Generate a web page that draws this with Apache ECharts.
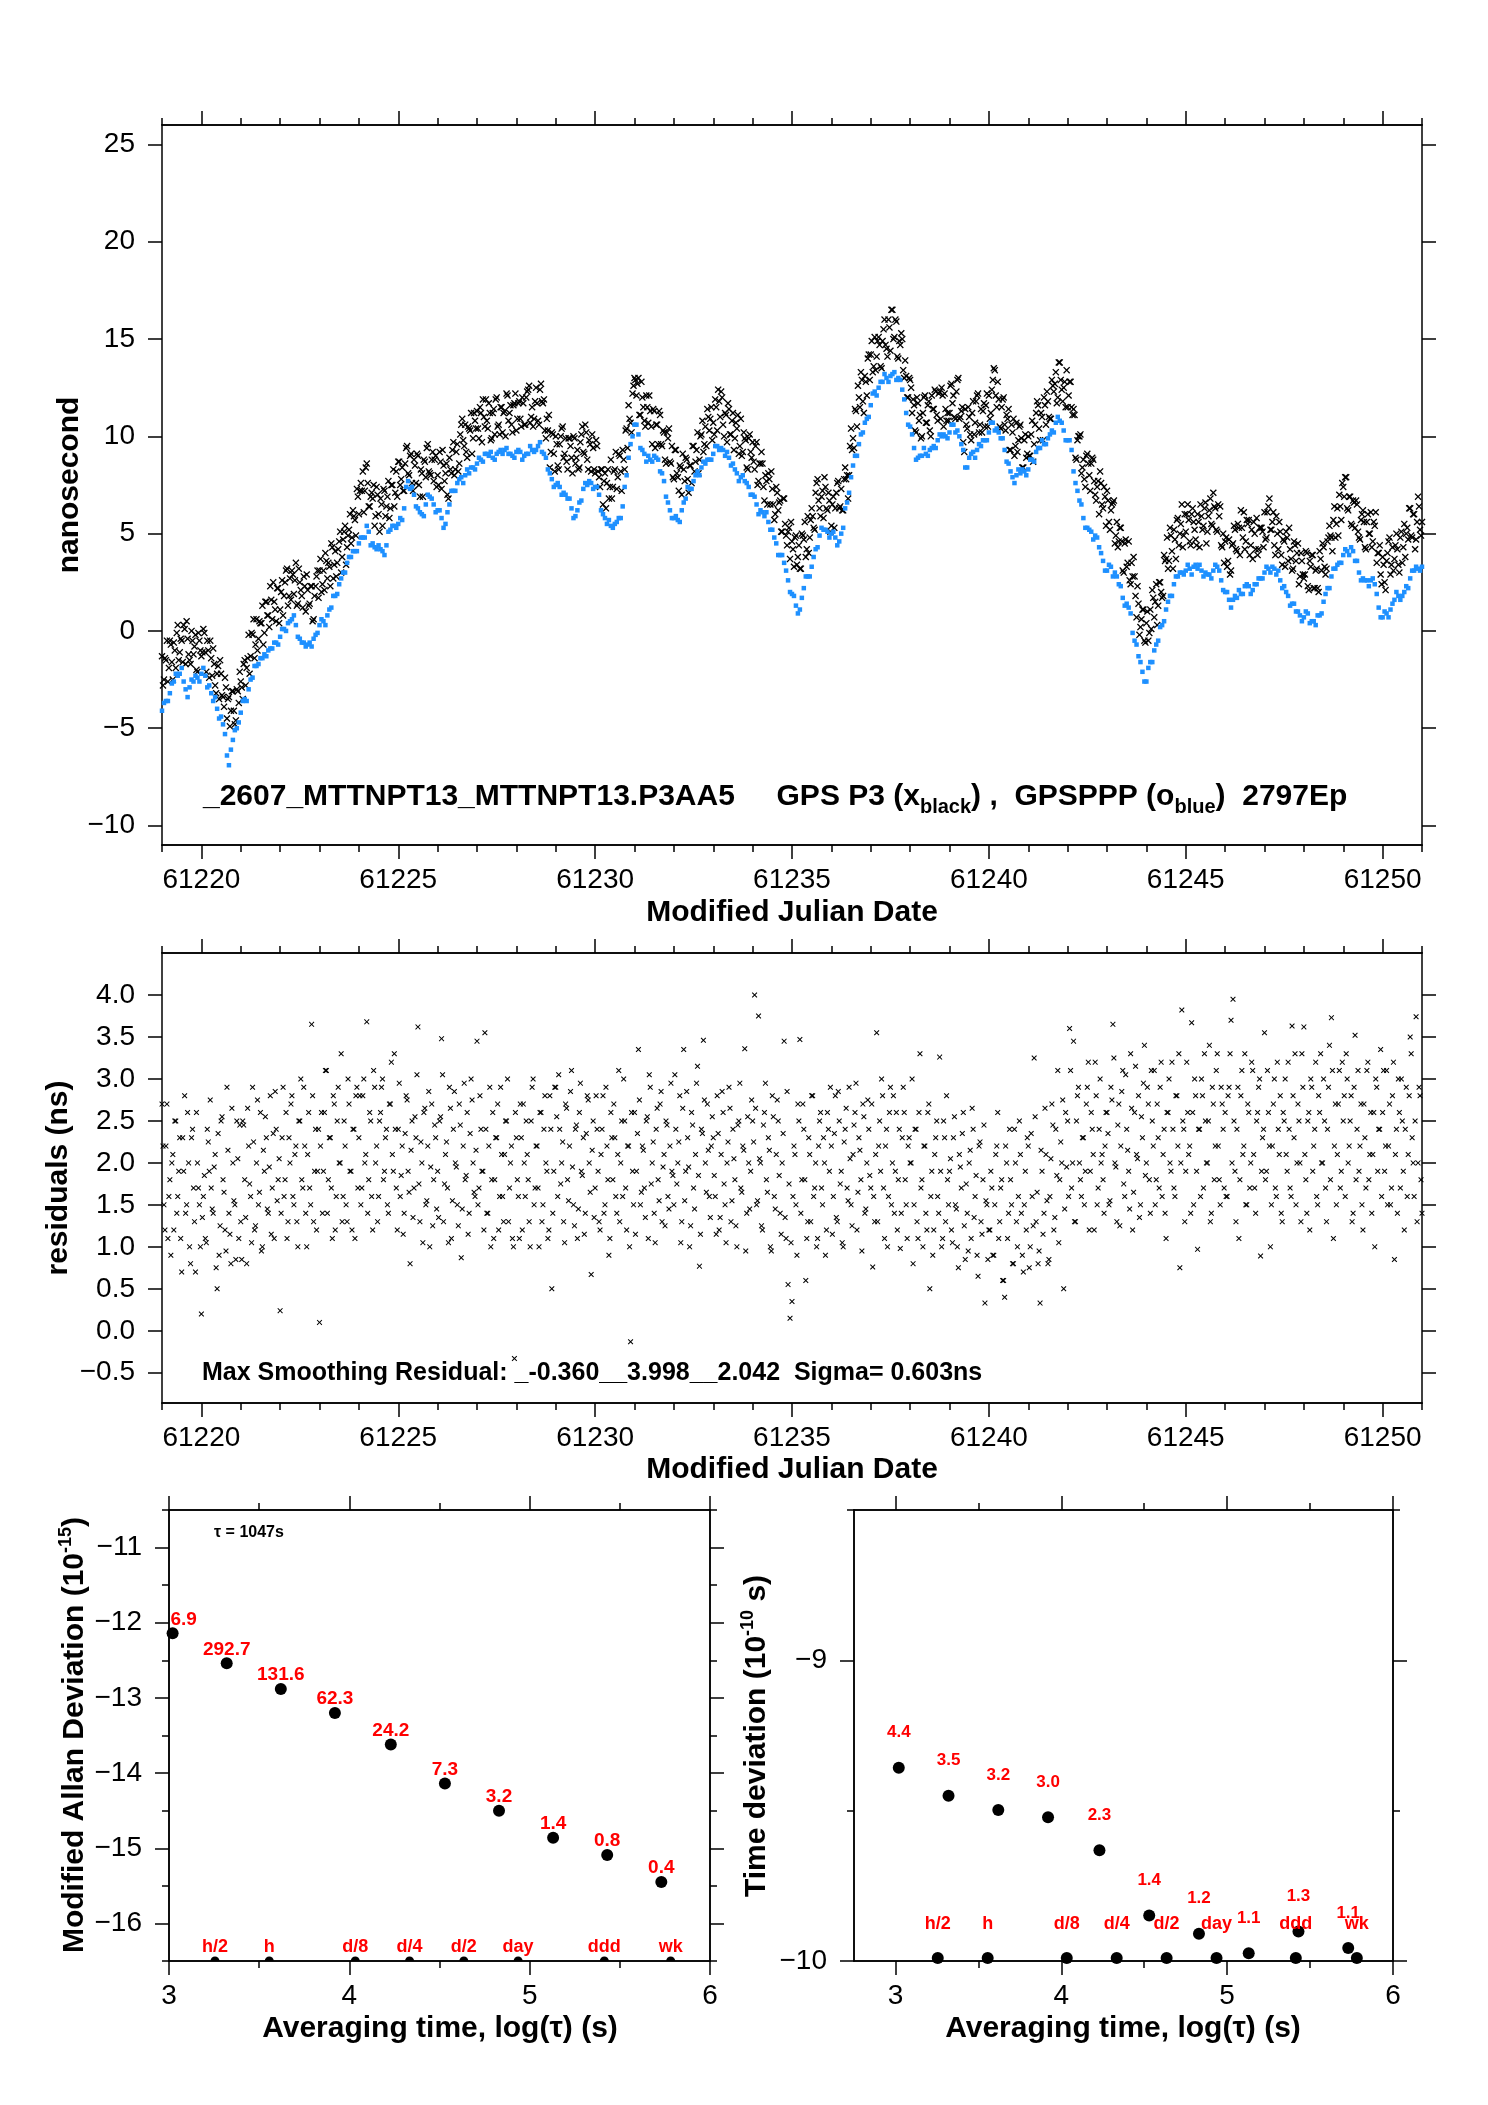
<!DOCTYPE html>
<html>
<head>
<meta charset="utf-8">
<title>MTTNPT13 GPS P3 vs GPSPPP</title>
<script src="https://cdn.jsdelivr.net/npm/echarts/dist/echarts.min.js"></script>
<style>
html, body { margin: 0; padding: 0; background: #fff; }
#chart { width: 1488px; height: 2105px; }
</style>
</head>
<body>
<div id="chart"></div>
<script>
// time comparison plot: P3 / PPP offsets, smoothing residuals, MDEV and TDEV
var FONT = "'Liberation Sans', Arial, Helvetica, sans-serif";

// ---- MJD axis ----
var MJD_MIN = 61219, MJD_MAX = 61251;
var mjdTicks = [61220, 61225, 61230, 61235, 61240, 61245, 61250];
var mjdDays = [];
for (var d = MJD_MIN; d <= MJD_MAX; d++) mjdDays.push(d);

// sampling of the read-off series: two interleaved passes each (start MJD, step in days)
var P3_START = 61219, P3_START_B = 61219.025, P3_STEP = 0.05;
var PPP_START = 61219, PPP_START_B = 61219.05, PPP_STEP = 0.1;
var RES_START = 61219, RES_START_B = 61219.025, RES_STEP = 0.05;

// GPS P3 (black x), ns
var p3Black = [
  -1.3,-2.5,-1.5,-2.6,-0.5,-1.6,-0.6,-1.9,0.3,-1.1,-0.5,0.3,-1.7,-0.4,-1.5,0.0,-1.2,-0.2,-2.1,-0.5,
  -1.3,0.1,-1.1,-0.5,-2.4,-1.4,-0.9,-2.8,-2.2,-3.5,-2.2,-3.4,-2.4,-4.5,-3.4,-4.1,-3.1,-4.8,-3.0,-3.7,
  -2.6,-3.5,-1.5,-1.9,-0.2,-1.3,-0.2,-1.4,0.6,-0.4,0.4,1.3,-0.1,1.5,0.8,2.3,0.6,1.5,0.5,2.2,
  1.1,2.6,1.8,3.1,1.3,2.7,3.1,1.9,3.5,1.4,2.5,1.8,2.8,1.0,2.1,1.4,2.3,0.6,2.3,3.1,
  3.1,2.0,3.1,4.0,2.7,3.3,4.5,2.7,4.1,3.5,4.6,3.0,4.7,5.4,4.3,5.2,4.5,6.2,5.7,7.3,
  6.0,7.6,8.2,7.2,8.6,6.4,6.9,6.8,5.4,7.4,6.0,6.8,5.4,7.2,6.4,7.7,6.3,7.5,6.4,8.2,
  8.7,7.5,8.4,7.2,9.4,8.1,9.0,7.6,8.8,7.6,9.0,6.9,8.1,8.8,7.9,9.6,8.1,8.8,7.7,9.0,
  8.0,9.2,7.3,8.5,8.1,7.0,8.9,8.1,9.7,8.3,9.6,8.6,10.6,9.8,10.6,8.9,10.4,11.2,9.9,10.8,
  11.3,9.9,11.2,11.9,10.5,10.8,11.7,9.8,11.2,10.1,12.0,10.6,11.5,10.2,11.3,12.2,10.8,11.6,10.2,11.7,
  10.3,11.7,10.9,12.0,10.6,12.0,12.4,10.7,11.5,10.9,12.5,10.8,12.4,11.8,11.9,9.9,10.3,8.4,10.2,9.1,
  10.0,8.5,9.6,10.4,8.9,9.9,8.3,9.9,8.9,10.0,8.6,9.3,8.4,10.1,9.2,10.6,8.8,9.8,8.2,9.4,
  8.1,9.5,7.9,8.3,6.5,8.1,7.6,6.8,8.8,7.4,8.3,7.3,9.1,8.2,9.3,8.3,10.4,11.6,10.7,12.2,
  13.0,12.1,13.0,11.1,12.0,10.8,12.1,10.7,11.3,9.6,11.3,10.6,9.6,11.1,9.5,10.2,8.6,9.9,8.7,9.5,
  7.8,9.3,7.9,8.5,7.0,8.3,8.9,7.8,8.5,7.6,9.5,8.7,10.2,8.8,10.1,9.2,10.5,11.4,10.3,11.5,
  10.7,11.9,10.3,11.8,12.3,10.6,11.2,9.7,11.4,10.1,11.2,9.9,10.4,9.1,10.9,9.2,9.9,8.4,9.9,9.2,
  9.7,8.3,9.7,7.7,8.6,8.6,6.7,7.7,8.1,6.5,7.3,5.7,7.4,6.2,6.7,5.1,6.8,4.9,5.1,3.7,
  4.6,3.3,4.9,3.8,3.2,5.0,4.7,3.8,5.9,4.8,6.3,5.3,7.1,7.8,6.3,6.9,5.8,7.4,6.2,6.7,
  5.4,6.9,6.3,7.6,6.3,7.3,6.2,8.4,8.0,8.0,10.4,9.9,11.4,10.5,12.0,13.3,11.8,13.1,12.1,14.2,
  14.2,13.3,15.1,14.1,15.1,13.6,14.9,16.0,14.5,16.0,14.4,16.5,15.1,15.9,14.0,14.7,15.0,13.0,13.1,12.0,
  12.9,11.2,11.6,10.2,11.7,11.1,10.0,12.0,10.7,11.6,10.3,12.1,11.4,12.3,10.8,12.3,12.5,10.5,11.4,11.2,
  11.2,12.7,12.1,10.9,12.9,10.9,11.3,9.7,11.4,10.4,11.0,9.8,11.8,10.7,12.1,10.2,11.4,11.3,10.5,12.2,
  12.1,11.2,12.9,13.4,11.5,11.9,10.4,11.9,10.6,11.1,11.4,9.3,10.2,9.0,10.7,9.8,10.6,8.4,9.8,8.9,
  10.0,9.0,10.8,9.6,11.2,11.6,9.8,11.0,12.0,10.6,11.8,10.9,12.9,12.3,13.3,12.0,13.8,12.4,12.5,11.5,
  11.5,12.8,11.5,11.4,8.9,9.8,10.0,8.1,8.8,7.4,9.1,8.0,8.6,8.8,7.0,7.4,6.0,7.6,6.3,6.9,
  7.2,5.6,6.2,6.6,4.5,5.6,4.6,5.3,3.1,4.5,3.3,4.6,2.4,2.8,2.8,0.7,1.4,0.2,1.1,-0.5,
  0.4,-0.5,1.1,2.1,0.7,2.4,1.3,2.5,1.7,3.9,3.7,3.2,5.3,4.1,5.2,3.7,5.8,5.0,6.5,4.9,
  5.1,6.5,4.6,6.0,5.6,4.7,6.0,4.3,5.9,5.4,6.6,5.1,6.2,5.5,7.1,6.3,5.1,5.9,4.4,5.0,
  4.6,3.3,4.7,3.1,4.5,5.2,4.1,5.3,6.2,4.8,4.2,5.7,5.7,4.4,3.7,5.0,5.8,4.2,5.3,5.1,
  6.1,4.8,6.4,5.2,5.6,4.4,5.9,4.2,5.1,3.4,4.6,5.1,3.6,4.2,3.1,4.6,3.6,4.5,2.8,3.6,
  2.7,4.1,2.3,3.6,3.9,2.2,3.1,2.2,4.1,3.1,4.3,2.9,4.6,5.4,4.8,5.7,4.8,6.3,7.0,5.7,
  7.4,7.9,6.3,6.9,5.5,6.7,5.3,6.5,4.8,5.7,6.2,4.3,5.6,5.0,6.1,4.6,5.4,3.5,4.0,2.9,
  3.8,2.5,3.6,4.6,2.9,4.3,3.7,5.0,3.4,4.8,3.5,5.5,5.0,4.7,6.3,4.8,6.0,4.7,6.9,5.2,
  5.6
];
var p3BlackB = [
  -2.8,-1.4,-0.5,-1.9,-0.7,-2.5,-1.0,-0.1,-1.5,-0.4,-1.6,0.1,0.5,-1.2,-1.7,-0.5,-0.8,-2.0,-0.1,-1.0,
  -1.1,-0.1,-2.1,-1.0,-0.5,-2.3,-1.7,-3.2,-1.8,-1.5,-3.3,-3.9,-2.9,-3.5,-4.9,-3.1,-4.1,-4.6,-3.1,-2.1,
  -2.9,-1.7,-2.8,-1.4,-2.2,-0.1,0.6,-0.7,-1.0,0.5,0.4,-0.7,1.5,0.8,0.2,1.6,2.5,1.1,2.2,0.4,
  2.0,0.8,2.5,3.2,1.8,1.6,2.9,2.6,1.3,3.2,2.1,1.2,2.3,2.9,1.3,2.3,0.5,1.8,2.8,1.7,
  3.7,2.4,2.1,3.6,3.5,2.3,4.3,3.4,2.8,4.2,5.1,3.8,5.1,3.4,4.9,6.0,4.8,5.9,4.9,6.9,
  7.2,7.2,6.1,8.4,7.6,6.4,7.1,7.5,5.9,7.0,5.1,6.5,7.3,5.9,6.9,5.8,7.5,8.3,7.1,6.9,
  8.7,7.8,7.2,8.6,9.5,8.0,9.1,7.2,8.5,9.1,7.5,8.3,6.9,8.7,9.4,8.2,8.0,9.2,8.8,7.4,
  7.5,8.7,9.3,7.7,8.6,6.8,8.3,9.3,8.0,9.2,8.2,10.1,10.9,9.5,9.2,10.5,10.3,9.1,11.2,10.4,
  10.4,11.5,9.7,11.0,11.9,10.4,11.2,9.9,11.4,11.9,10.5,10.1,11.5,11.2,10.0,12.1,11.2,10.6,11.6,12.2,
  10.9,11.8,10.5,11.7,10.6,12.3,12.6,11.0,10.5,11.8,11.7,10.6,12.7,11.7,10.3,10.9,11.1,9.2,10.1,8.2,
  9.6,8.3,10.0,10.5,9.1,8.7,9.9,9.5,8.1,9.9,8.9,8.3,9.7,10.5,9.1,10.2,8.3,9.6,10.1,8.3,
  9.8,8.2,7.4,8.3,7.7,6.3,8.3,7.4,6.8,8.2,9.2,7.9,9.0,7.2,8.8,10.3,9.4,10.9,10.2,12.6,
  12.9,12.7,11.1,12.8,11.5,10.5,11.5,12.1,10.5,11.4,9.4,10.6,11.3,9.6,10.3,8.8,10.2,10.4,8.6,7.9,
  9.3,8.1,7.2,8.4,9.1,7.7,8.8,7.1,8.5,9.5,8.2,9.3,8.1,10.0,10.8,9.6,9.5,11.0,10.9,9.8,
  10.1,11.5,12.4,11.0,12.0,10.0,11.1,11.7,10.1,10.8,9.3,10.7,11.1,9.5,9.0,10.2,9.8,8.3,10.1,8.9,
  8.7,9.5,7.5,8.6,9.2,7.4,8.0,6.5,7.8,8.2,6.5,6.0,7.1,6.6,5.1,6.8,5.5,4.4,5.3,5.6,
  4.2,4.8,3.4,4.4,3.2,4.9,5.6,4.2,4.0,5.7,5.9,5.2,7.6,6.7,5.9,7.2,7.9,6.3,7.1,5.1,
  6.5,5.3,7.1,7.7,6.4,6.2,7.8,7.8,6.8,9.5,9.3,9.4,11.3,12.6,11.5,12.9,11.2,12.8,14.0,12.9,
  14.9,13.6,13.4,14.9,14.7,13.5,15.5,14.7,14.1,15.6,16.5,15.0,16.0,14.1,14.9,15.3,13.4,13.9,12.0,13.0,
  12.5,11.9,10.3,12.0,10.8,9.9,11.2,12.1,10.7,11.8,10.0,11.4,12.4,11.1,12.2,10.9,12.1,12.2,10.8,10.8,
  12.6,11.7,11.0,12.3,13.0,11.0,11.5,9.2,10.6,11.5,10.1,11.2,10.1,11.8,12.2,10.6,10.2,11.7,11.6,10.5,
  10.9,12.4,13.5,12.1,12.8,10.5,11.5,12.0,10.3,10.9,9.3,10.6,10.9,9.5,9.2,10.5,9.9,8.4,10.1,9.1,
  9.0,10.1,8.7,10.6,11.8,10.4,11.2,9.8,11.6,12.3,11.0,10.9,12.6,12.7,11.7,13.8,12.9,11.8,12.8,13.4,
  12.1,12.8,11.1,11.1,8.8,10.0,10.1,8.4,7.8,9.0,8.6,7.2,8.9,7.7,6.7,7.7,8.2,6.5,7.4,5.4,
  6.7,5.2,6.5,6.7,4.9,4.3,5.3,4.6,3.0,4.7,3.5,2.6,3.5,3.8,1.8,2.3,-0.2,0.6,1.1,-0.6,
  1.0,-0.1,0.1,1.7,1.5,0.3,2.5,2.0,1.8,3.6,4.8,3.6,4.9,3.2,4.7,5.7,4.4,5.5,4.3,6.0,
  6.0,5.7,4.4,6.3,5.2,4.4,5.6,6.5,5.2,6.3,4.5,5.9,6.8,5.4,6.4,5.2,6.5,6.4,4.3,3.5,
  4.8,3.6,2.9,4.4,5.4,4.2,5.5,3.9,5.3,6.1,4.6,5.5,3.9,5.2,5.6,4.2,3.9,5.3,5.3,4.3,
  4.7,6.1,6.8,5.2,6.1,3.9,5.0,5.6,3.9,4.7,3.3,4.8,5.3,3.7,3.2,4.4,4.0,2.4,4.0,2.9,
  2.9,4.0,2.1,3.3,3.9,2.2,3.2,2.0,3.7,4.5,3.3,3.2,4.8,4.9,4.1,6.4,5.5,4.9,6.4,7.6,
  6.9,7.9,6.2,6.9,5.4,6.6,6.7,5.1,4.7,6.0,5.6,4.2,6.0,5.0,4.3,5.6,6.1,4.0,4.4,2.4,
  3.4,2.1,4.0,4.8,3.4,3.1,4.4,4.2,3.0,5.1,4.3,3.8,5.3,6.3,4.9,6.0,4.2,5.6,6.4,4.9
];

// GPSPPP (blue), ns
var pppBlue = [
  -4.1,-3.6,-3.2,-2.6,-2.3,-1.9,-3.0,-2.9,-2.6,-2.4,
  -2.2,-2.3,-2.8,-3.6,-4.0,-4.4,-5.3,-6.9,-5.6,-5.0,
  -4.2,-3.5,-3.0,-2.4,-1.8,-1.4,-1.2,-1.0,-0.9,-0.6,
  -0.3,0.1,0.4,0.6,0.3,-0.4,-0.6,-0.7,-0.8,-0.2,
  0.3,0.5,0.8,1.2,1.8,2.4,3.0,3.5,3.8,4.1,
  4.5,4.8,5.4,4.4,4.3,4.4,4.1,4.4,5.2,5.4,
  5.5,5.7,7.4,7.3,7.0,6.3,6.0,6.5,6.9,6.5,
  6.2,5.8,5.5,6.5,7.2,7.6,7.9,8.0,8.1,8.4,
  8.6,8.8,9.1,9.0,8.9,9.1,9.3,9.3,9.1,9.0,
  9.2,9.2,9.0,9.1,9.3,9.3,9.7,9.1,8.3,7.8,
  7.5,7.4,7.1,6.8,6.3,5.9,6.6,7.3,7.5,7.6,
  7.4,7.0,6.0,5.5,5.4,5.5,5.8,6.4,8.0,9.6,
  10.6,10.1,9.3,8.7,8.8,9.0,8.8,8.1,6.9,6.2,
  5.8,5.7,6.2,6.8,7.3,7.7,8.2,8.4,8.6,8.8,
  9.1,9.5,9.4,9.0,8.9,8.6,8.1,7.9,7.7,7.4,
  7.0,6.5,6.2,5.9,5.6,5.2,4.5,3.9,3.5,2.6,
  1.9,1.3,1.1,2.2,2.8,3.3,4.2,4.9,5.2,5.1,
  5.0,4.8,4.6,5.3,6.6,7.9,9.0,9.6,10.2,10.9,
  11.6,12.3,12.5,12.8,13.0,13.1,13.3,13.0,12.4,11.2,
  10.5,9.4,8.9,9.0,9.1,9.3,9.5,9.8,10.0,10.0,
  10.2,10.6,10.3,9.6,8.4,8.9,9.2,9.3,9.5,9.8,
  10.2,10.7,10.4,9.9,9.3,8.6,7.9,8.0,8.1,8.2,
  8.3,8.8,9.2,9.4,9.6,9.9,10.3,10.7,10.8,10.3,
  9.8,9.3,7.6,6.7,5.8,5.3,5.1,4.9,4.3,3.6,
  3.1,3.3,3.0,2.4,1.7,1.4,0.9,-0.5,-1.3,-2.1,
  -2.6,-1.6,-1.0,-0.5,0.3,1.1,1.8,2.4,2.8,3.0,
  3.1,3.2,3.3,3.2,3.1,3.0,2.9,3.1,3.3,2.6,
  2.0,1.6,1.6,1.7,1.9,2.3,2.3,2.1,2.4,2.7,
  3.0,3.2,3.3,2.9,2.6,2.3,1.8,1.4,1.0,0.8,
  0.7,0.9,0.5,0.3,0.8,1.5,2.2,2.8,3.2,3.5,
  3.9,4.1,4.3,3.6,3.0,2.7,2.6,2.6,2.4,1.2,
  0.7,0.9,1.1,1.6,1.8,1.8,2.3,2.7,3.1,3.2,
  3.3
];
var pppBlueB = [
  -3.7,-3.6,-2.7,-2.2,-2.2,-2.6,-3.4,-2.5,-2.3,-2.6,
  -1.9,-2.9,-3.2,-3.4,-4.5,-4.8,-6.4,-6.1,-5.1,-4.7,
  -3.6,-3.6,-2.5,-1.8,-1.7,-1.4,-1.3,-0.9,-0.6,-0.7,
  0.1,0.0,0.5,0.8,-0.3,-0.6,-0.8,-0.6,-0.4,-0.1,
  0.6,0.3,1.1,1.8,1.9,2.7,3.0,3.8,4.1,4.1,
  4.8,4.8,5.1,4.5,4.2,4.2,3.9,5.1,5.4,5.3,
  5.8,6.3,7.7,7.4,6.4,6.1,5.9,7.0,6.8,6.1,
  6.2,5.3,6.1,7.2,7.2,7.8,7.6,8.3,8.4,8.3,
  8.9,8.7,9.1,9.2,8.8,9.2,9.1,9.4,9.1,8.9,
  9.3,8.8,9.1,9.5,9.2,9.5,9.2,8.9,8.1,7.4,
  7.6,7.0,7.0,6.8,5.8,6.2,6.7,7.6,7.7,7.3,
  7.4,6.2,5.8,5.7,5.3,5.6,5.8,7.4,8.9,10.0,
  10.6,9.4,9.1,9.0,8.7,8.9,8.2,7.7,6.6,5.8,
  5.9,5.6,6.6,7.4,7.3,8.0,8.0,8.7,8.8,8.8,
  9.5,9.3,9.3,9.2,8.5,8.3,7.7,8.0,7.6,7.0,
  6.9,6.0,6.1,6.1,5.2,4.8,3.9,3.9,3.1,2.0,
  1.8,0.9,1.7,2.8,2.8,3.8,4.3,5.3,5.2,4.8,
  5.1,4.4,5.0,6.3,7.1,8.5,9.0,10.1,10.7,11.0,
  12.2,12.1,12.8,13.2,12.8,13.2,12.9,12.9,11.9,10.6,
  10.1,8.8,9.0,9.4,9.0,9.4,9.4,10.1,10.1,9.9,
  10.6,10.2,10.0,9.3,8.4,9.1,8.9,9.6,9.8,9.8,
  10.7,10.3,10.2,9.9,8.7,8.2,7.6,8.3,8.3,8.0,
  8.8,8.7,9.4,9.8,9.6,10.1,10.2,11.0,10.7,9.8,
  9.8,8.2,7.2,6.5,5.3,5.2,4.7,4.8,4.0,3.1,
  3.4,2.8,2.8,2.3,1.3,1.2,-0.1,-0.7,-1.6,-2.6,
  -1.9,-1.6,-0.7,0.2,0.5,1.5,1.8,2.8,3.0,2.9,
  3.4,2.9,3.4,3.4,2.8,2.9,2.7,3.4,3.1,2.1,
  2.0,1.2,1.8,2.1,1.9,2.4,1.9,2.4,2.7,2.7,
  3.3,3.0,3.2,3.1,2.2,2.0,1.3,1.4,1.0,0.5,
  1.0,0.4,0.5,0.8,0.9,1.9,2.2,3.2,3.4,3.5,
  4.2,3.9,4.1,3.6,2.6,2.6,2.3,2.7,1.9,0.7,
  1.0,0.7,1.4,2.0,1.6,2.0,2.2,3.1,3.3,3.1
];

// smoothing residuals, ns
var residuals = [
  2.7,1.5,2.2,1.1,1.8,2.0,1.2,2.5,1.6,2.3,0.7,1.9,1.4,2.6,1.0,2.3,1.7,0.7,2.0,1.5,
  0.2,1.6,1.1,2.4,1.9,1.7,1.4,2.1,0.5,0.9,2.5,1.8,1.2,2.9,1.4,0.8,2.0,1.5,2.5,1.1,
  1.3,2.5,1.8,0.8,2.2,1.6,2.9,1.2,2.0,1.5,2.6,1.0,1.9,2.3,1.4,2.8,1.7,1.1,2.4,1.8,
  0.24,2.3,1.6,2.6,1.3,2.0,2.8,1.5,2.2,1.0,2.5,1.8,2.9,1.4,2.1,1.7,3.65,1.3,2.4,1.9,
  0.1,2.6,1.9,3.1,1.4,2.3,1.7,2.8,1.2,2.5,2.0,3.3,1.6,2.2,1.3,2.7,1.9,2.4,1.1,2.9,
  2.3,1.5,2.8,2.0,3.68,1.8,2.5,1.2,2.9,2.2,1.6,2.6,3.0,1.9,2.4,1.4,2.7,2.1,3.3,1.7,
  2.4,1.6,2.2,1.4,2.8,1.9,0.8,2.5,1.7,2.3,3.62,1.3,2.0,2.6,1.5,2.2,1.0,2.7,1.8,2.3,
  1.9,2.5,3.48,1.3,2.1,1.7,2.9,1.1,2.4,2.0,1.5,2.7,0.87,2.2,1.8,2.6,1.4,3.0,2.0,1.6,
  3.45,1.7,2.4,1.9,3.55,1.4,2.2,1.0,2.6,1.8,2.3,1.2,2.9,1.6,2.1,2.5,1.3,2.0,1.1,-0.33,
  2.3,1.6,2.7,1.2,2.0,2.5,1.8,1.0,2.9,1.5,2.2,1.7,2.6,1.3,2.4,2.0,1.1,2.8,0.5,1.9,
  2.9,1.6,2.4,2.0,1.3,2.7,1.8,2.2,3.1,1.5,2.4,1.1,2.6,1.9,2.3,1.4,2.8,2.0,0.67,2.5,
  1.7,2.4,1.3,2.1,2.8,1.5,2.2,0.9,2.6,1.8,2.3,1.4,3.1,2.0,1.6,2.5,1.2,2.2,-0.13,1.9,
  2.6,1.9,3.35,1.5,2.2,1.7,2.5,1.1,2.9,2.0,1.4,2.4,1.8,2.7,1.3,2.1,2.5,1.6,2.2,1.9,
  1.5,2.4,2.0,2.8,1.3,3.35,1.9,2.3,1.0,2.6,1.7,2.1,3.15,0.77,2.4,3.46,2.0,2.7,1.6,2.2,
  2.3,1.6,2.8,1.2,2.1,2.6,1.5,2.0,2.9,1.3,2.4,1.8,1.0,2.5,1.7,2.2,3.36,1.4,2.0,1.9,
  2.5,4.0,1.5,3.75,2.0,1.2,2.6,1.8,2.3,1.0,2.8,1.6,2.1,2.5,1.4,2.0,3.45,1.1,0.55,0.15,
  0.35,2.2,1.5,2.7,3.47,1.8,2.4,0.6,1.3,2.1,2.8,1.6,2.0,1.1,2.5,1.7,2.3,0.9,2.6,1.9,
  2.2,1.6,2.8,1.3,2.5,1.9,1.0,2.4,1.7,2.9,1.5,2.1,2.6,1.2,2.3,1.8,2.7,1.4,2.0,2.4,
  1.7,0.76,1.3,3.55,2.2,1.9,2.8,1.1,2.4,1.6,2.9,2.0,1.4,2.6,1.8,0.98,2.3,2.6,1.5,2.2,
  2.0,3.0,1.5,2.4,1.1,3.3,1.8,2.2,1.4,2.6,0.5,1.9,1.2,2.3,1.6,3.26,1.0,2.5,1.3,1.8,
  1.9,1.2,2.3,1.5,1.0,2.1,1.7,2.6,0.85,1.4,2.0,1.1,2.4,1.6,0.9,2.2,1.3,1.8,0.33,1.5,
  1.2,1.9,0.9,1.5,2.2,1.1,1.7,0.6,0.4,2.0,1.4,1.8,0.8,2.4,1.3,1.6,2.1,0.9,1.5,1.2,
  2.2,1.0,1.6,3.25,1.3,0.8,0.33,1.9,1.4,2.1,0.8,1.6,2.7,1.2,2.4,3.1,1.8,2.0,0.5,2.6,
  2.5,3.6,1.7,3.45,1.3,2.8,2.0,1.6,2.3,1.9,2.9,1.2,2.6,2.1,3.2,1.5,2.4,2.0,1.8,2.2,
  2.6,1.5,2.9,3.65,2.0,1.3,2.7,2.2,3.1,1.6,2.4,1.9,3.3,1.2,2.6,2.1,2.8,1.5,2.3,3.4,
  2.0,2.7,1.4,2.5,3.1,1.8,2.3,2.9,1.6,2.4,1.1,2.6,2.0,3.2,1.7,2.8,2.2,0.75,3.82,2.4,
  1.9,2.6,2.2,3.67,1.5,2.8,0.97,2.4,3.0,1.7,2.5,2.0,3.4,1.4,2.7,2.2,3.3,1.8,2.9,2.4,
  2.6,1.6,2.9,3.7,3.95,1.9,2.4,1.1,2.8,2.1,3.3,1.5,2.6,2.0,3.1,1.7,2.5,2.9,0.89,2.3,
  3.55,1.9,2.6,1.0,2.2,3.0,1.6,2.4,2.8,1.3,2.5,2.1,3.2,1.7,3.63,2.3,1.5,2.7,2.0,3.3,
  3.62,1.8,2.5,1.2,2.9,2.2,3.2,1.5,2.6,2.0,3.0,1.7,2.4,3.4,3.73,1.1,2.7,2.1,3.1,1.9,
  2.5,1.6,3.0,2.2,2.8,1.4,3.52,2.4,1.9,2.7,1.2,2.3,3.1,1.8,2.6,2.1,1.0,2.9,2.4,3.35,
  2.6,1.9,3.1,2.2,1.5,2.8,0.85,2.4,3.0,1.7,2.5,1.2,2.9,2.1,3.5,2.3,1.6,3.74,2.0,2.8,
  1.4
];
var residualsB = [
  2.2,1.2,2.7,1.6,0.9,2.1,2.5,1.4,1.9,1.1,2.3,2.8,1.5,2.0,0.8,2.4,1.3,2.6,1.7,1.0,
  1.35,1.85,1.05,2.25,2.75,1.45,1.95,0.75,2.35,1.25,2.55,1.65,0.95,2.15,1.15,2.65,1.55,0.85,2.05,2.45,
  0.85,2.45,1.35,2.65,1.75,1.05,2.25,1.25,2.75,1.65,0.95,2.15,2.55,1.45,1.95,1.15,2.35,2.85,1.55,2.05,
  1.4,2.9,1.8,1.1,2.3,2.7,1.6,2.1,1.3,2.5,3.0,1.7,2.2,1.0,2.6,1.5,2.8,1.9,1.2,2.4,
  2.2,1.4,2.6,3.1,1.8,2.3,1.1,2.7,1.6,2.9,2.0,1.3,2.5,1.5,3.0,1.9,1.2,2.4,2.8,1.7,
  2.8,1.7,3.0,2.1,1.4,2.6,1.6,3.1,2.0,1.3,2.5,2.9,1.8,2.3,1.5,2.7,3.2,1.9,2.4,1.2,
  2.95,1.85,1.15,2.35,2.75,1.65,2.15,1.35,2.55,3.05,1.75,2.25,1.05,2.65,1.55,2.85,1.95,1.25,2.45,1.45,
  1.35,2.55,3.05,1.75,2.25,1.05,2.65,1.55,2.85,1.95,1.25,2.45,1.45,2.95,1.85,1.15,2.35,2.75,1.65,2.15,
  1.5,2.8,1.9,1.2,2.4,1.4,2.9,1.8,1.1,2.3,2.7,1.6,2.1,1.3,2.5,3.0,1.7,2.2,1.0,2.6,
  1.8,1.1,2.3,2.7,1.6,2.1,1.3,2.5,3.0,1.7,2.2,1.0,2.6,1.5,2.8,1.9,1.2,2.4,1.4,2.9,
  2.55,3.05,1.75,2.25,1.05,2.65,1.55,2.85,1.95,1.25,2.45,1.45,2.95,1.85,1.15,2.35,2.75,1.65,2.15,1.35,
  2.8,1.9,1.2,2.4,1.4,2.9,1.8,1.1,2.3,2.7,1.6,2.1,1.3,2.5,3.0,1.7,2.2,1.0,2.6,1.5,
  1.15,2.35,2.75,1.65,2.15,1.35,2.55,3.05,1.75,2.25,1.05,2.65,1.55,2.85,1.95,1.25,2.45,1.45,2.95,1.85,
  3.05,1.75,2.25,1.05,2.65,1.55,2.85,1.95,1.25,2.45,1.45,2.95,1.85,1.15,2.35,2.75,1.65,2.15,1.35,2.55,
  1.85,1.15,2.35,1.35,2.85,1.75,1.05,2.25,2.65,1.55,2.05,1.25,2.45,2.95,1.65,2.15,0.95,2.55,1.45,2.75,
  2.25,2.65,1.55,2.05,1.25,2.45,2.95,1.65,2.15,0.95,2.55,1.45,2.75,1.85,1.15,2.35,1.35,2.85,1.75,1.05,
  1.6,2.1,0.9,2.5,1.4,2.7,1.8,1.1,2.3,1.3,2.8,1.7,1.0,2.2,2.6,1.5,2.0,1.2,2.4,2.9,
  1.15,2.35,1.35,2.85,1.75,1.05,2.25,2.65,1.55,2.05,1.25,2.45,2.95,1.65,2.15,0.95,2.55,1.45,2.75,1.85,
  2.7,1.6,2.1,1.3,2.5,3.0,1.7,2.2,1.0,2.6,1.5,2.8,1.9,1.2,2.4,1.4,2.9,1.8,1.1,2.3,
  2.0,0.8,2.4,1.3,2.6,1.7,1.0,2.2,1.2,2.7,1.6,0.9,2.1,2.5,1.4,1.9,1.1,2.3,2.8,1.5,
  2.05,1.05,2.55,1.45,0.75,1.95,2.35,1.25,1.75,0.95,2.15,2.65,1.35,1.85,0.65,2.25,1.15,2.45,1.55,0.85,
  1.2,1.7,0.9,2.1,2.6,1.3,1.8,0.6,2.2,1.1,2.4,1.5,0.8,2.0,1.0,2.5,1.4,0.7,1.9,2.3,
  0.75,2.35,1.25,2.55,1.65,0.95,2.15,1.15,2.65,1.55,0.85,2.05,2.45,1.35,1.85,1.05,2.25,2.75,1.45,1.95,
  1.6,3.1,2.0,1.3,2.5,2.9,1.8,2.3,1.5,2.7,3.2,1.9,2.4,1.2,2.8,1.7,3.0,2.1,1.4,2.6,
  2.35,1.55,2.75,3.25,1.95,2.45,1.25,2.85,1.75,3.05,2.15,1.45,2.65,1.65,3.15,2.05,1.35,2.55,2.95,1.85,
  2.9,1.8,3.1,2.2,1.5,2.7,1.7,3.2,2.1,1.4,2.6,3.0,1.9,2.4,1.6,2.8,3.3,2.0,2.5,1.3,
  3.2,2.1,1.4,2.6,3.0,1.9,2.4,1.6,2.8,3.3,2.0,2.5,1.3,2.9,1.8,3.1,2.2,1.5,2.7,1.7,
  1.6,2.8,3.3,2.0,2.5,1.3,2.9,1.8,3.1,2.2,1.5,2.7,1.7,3.2,2.1,1.4,2.6,3.0,1.9,2.4,
  1.8,3.1,2.2,1.5,2.7,1.7,3.2,2.1,1.4,2.6,3.0,1.9,2.4,1.6,2.8,3.3,2.0,2.5,1.3,2.9,
  2.1,1.4,2.6,3.0,1.9,2.4,1.6,2.8,3.3,2.0,2.5,1.3,2.9,1.8,3.1,2.2,1.5,2.7,1.7,3.2,
  2.8,3.3,2.0,2.5,1.3,2.9,1.8,3.1,2.2,1.5,2.7,1.7,3.2,2.1,1.4,2.6,3.0,1.9,2.4,1.6,
  3.1,2.2,1.5,2.7,1.7,3.2,2.1,1.4,2.6,3.0,1.9,2.4,1.6,2.8,3.3,2.0,2.5,1.3,2.9,1.8
];

// ---- stability panels ----
var logTau = [3.02, 3.32, 3.62, 3.92, 4.23, 4.53, 4.83, 5.13, 5.43, 5.73];
var mdevLog = [-12.14, -12.54, -12.88, -13.20, -13.62, -14.14, -14.50, -14.86, -15.09, -15.45];
var mdevLabels = ['6.9', '292.7', '131.6', '62.3', '24.2', '7.3', '3.2', '1.4', '0.8', '0.4'];
var tdevLog = [-9.357, -9.450, -9.498, -9.522, -9.632, -9.849, -9.909, -9.974, -9.902, -9.957];
var tdevLabels = ['4.4', '3.5', '3.2', '3.0', '2.3', '1.4', '1.2', '1.1', '1.3', '1.1'];
var refLogTau = [3.255, 3.556, 4.033, 4.334, 4.635, 4.936, 5.414, 5.782];
var refLabels = ['h/2', 'h', 'd/8', 'd/4', 'd/2', 'day', 'ddd', 'wk'];
var MDEV_FLOOR = -16.5, TDEV_FLOOR = -10;

// tick values
var offTicks = [-10, -5, 0, 5, 10, 15, 20, 25];
var resTicks = [-0.5, 0, 0.5, 1, 1.5, 2, 2.5, 3, 3.5, 4];
var tauMajor = [3, 4, 5, 6], tauMinor = [3.5, 4.5, 5.5];
var mdevMajor = [-16, -15, -14, -13, -12, -11];
var mdevMinor = [-16.5, -15.5, -14.5, -13.5, -12.5, -11.5, -10.5];
var tdevMajor = [-10, -9], tdevMinor = [-9.5, -8.5];

function neg(s) { return String(s).replace('-', '\u2212'); }
function fmtInt(v) { return neg(Math.round(v)); }
function fmt1(v) { return neg(v.toFixed(1)); }
function fmtMjd(v) { return String(v); }

function series2d(vals, start, step) {
  return vals.map(function (v, i) { return [start + i * step, v]; });
}

// ---- axes: every panel gets a closed box with outward ticks ----
var LINE = { color: '#000', width: 1.5 };
var xAxes = [], yAxes = [], mainX = [], mainY = [];

function makeAxis(g, pos, r, ticks, len, labels, fmt, margin) {
  return {
    type: 'value', gridIndex: g, position: pos, min: r.min, max: r.max,
    splitLine: { show: false },
    axisLine: { show: true, onZero: false, lineStyle: LINE },
    axisTick: { show: true, inside: false, length: len, customValues: ticks, lineStyle: LINE },
    axisLabel: labels ? {
      show: true, customValues: labels, formatter: fmt, margin: margin,
      fontSize: 28, color: '#000', fontFamily: FONT
    } : { show: false }
  };
}

function addFrame(g, xr, yr) {
  mainX.push(xAxes.length);
  xAxes.push(makeAxis(g, 'bottom', xr, xr.major, 14, xr.major, xr.fmt, 21));
  if (xr.minor) xAxes.push(makeAxis(g, 'bottom', xr, xr.minor, 7));
  xAxes.push(makeAxis(g, 'top', xr, xr.major, 14));
  if (xr.minor) xAxes.push(makeAxis(g, 'top', xr, xr.minor, 7));
  mainY.push(yAxes.length);
  yAxes.push(makeAxis(g, 'left', yr, yr.major, 14, yr.major, yr.fmt, 27));
  if (yr.minor) yAxes.push(makeAxis(g, 'left', yr, yr.minor, 7));
  yAxes.push(makeAxis(g, 'right', yr, yr.major, 14));
  if (yr.minor) yAxes.push(makeAxis(g, 'right', yr, yr.minor, 7));
}

addFrame(0, { min: MJD_MIN, max: MJD_MAX, major: mjdTicks, minor: mjdDays, fmt: fmtMjd },
            { min: -11, max: 26, major: offTicks, fmt: fmtInt });
addFrame(1, { min: MJD_MIN, max: MJD_MAX, major: mjdTicks, minor: mjdDays, fmt: fmtMjd },
            { min: -0.86, max: 4.5, major: resTicks, fmt: fmt1 });
addFrame(2, { min: 3, max: 6, major: tauMajor, minor: tauMinor, fmt: fmtInt },
            { min: -16.5, max: -10.5, major: mdevMajor, minor: mdevMinor, fmt: fmtInt });
addFrame(3, { min: 2.75, max: 6, major: tauMajor, minor: tauMinor, fmt: fmtInt },
            { min: -10, max: -8.5, major: tdevMajor, minor: tdevMinor, fmt: fmtInt });

// thin "x" cross and a half dot for the bottom reference marks
var XMARK = 'path://M0,1.3L1.3,0L5,3.7L8.7,0L10,1.3L6.3,5L10,8.7L8.7,10L5,6.3L1.3,10L0,8.7L3.7,5Z';
var HALFDOT = 'path://M0,10A10,10 0 0 1 20,10Z';
var SOLID_BLACK = { color: '#000', opacity: 1 };
var SOLID_BLUE = { color: '#1E90FF', opacity: 1 };

function redLabel(size, dy, texts) {
  return {
    show: true, position: 'inside', offset: [0, dy], color: '#ff0000', opacity: 1,
    fontWeight: 'bold', fontSize: size, fontFamily: FONT,
    formatter: function (p) { return texts[p.dataIndex]; }
  };
}

function dots(g, symbol, size, style, data) {
  return { type: 'scatter', xAxisIndex: mainX[g], yAxisIndex: mainY[g], symbol: symbol,
    symbolSize: size, itemStyle: style, silent: true, data: data };
}

var mdevData = logTau.map(function (t, i) {
  var item = { value: [t, mdevLog[i]] };
  if (i === 0) item.label = { offset: [11, -14] }; // first label is cut by the frame
  return item;
});

var series = [
  dots(0, XMARK, 7, SOLID_BLACK, series2d(p3Black, P3_START, P3_STEP)),
  dots(0, XMARK, 7, SOLID_BLACK, series2d(p3BlackB, P3_START_B, P3_STEP)),
  dots(0, 'rect', 4.5, SOLID_BLUE, series2d(pppBlue, PPP_START, PPP_STEP)),
  dots(0, 'rect', 4.5, SOLID_BLUE, series2d(pppBlueB, PPP_START_B, PPP_STEP)),
  dots(1, XMARK, 5.5, SOLID_BLACK, series2d(residuals, RES_START, RES_STEP)),
  dots(1, XMARK, 5.5, SOLID_BLACK, series2d(residualsB, RES_START_B, RES_STEP))
];

var s;
s = dots(2, 'circle', 12, SOLID_BLACK, mdevData);
s.label = redLabel(19, -14, mdevLabels);
series.push(s);
s = dots(2, HALFDOT, [9, 4.5], SOLID_BLACK, refLogTau.map(function (t) { return [t, MDEV_FLOOR]; }));
s.symbolOffset = [0, -2.25];
s.label = redLabel(18, -11.75, refLabels);
series.push(s);
s = dots(3, 'circle', 12, SOLID_BLACK, logTau.map(function (t, i) { return [t, tdevLog[i]]; }));
s.label = redLabel(17, -35, tdevLabels);
series.push(s);
s = dots(3, 'circle', 12, SOLID_BLACK, refLogTau.map(function (t) { return [t, TDEV_FLOOR]; }));
s.symbolOffset = [0, -3];
s.label = redLabel(18, -33.5, refLabels);
series.push(s);

function text(x, y, str, size, extra) {
  var el = {
    type: 'text', x: x, y: y, silent: true,
    style: { text: str, fontSize: size, fontWeight: 'bold', fontFamily: FONT, fill: '#000',
      align: 'center', verticalAlign: 'middle' }
  };
  if (extra) {
    for (var k in extra.style || {}) el.style[k] = extra.style[k];
    if (extra.rotation) el.rotation = extra.rotation;
  }
  return el;
}
var UP = Math.PI / 2;
var supStyle = { p: { fontSize: 18, fontWeight: 'bold', fontFamily: FONT, lineHeight: 18, verticalAlign: 'top' } };
var subStyle = { s: { fontSize: 20, fontWeight: 'bold', fontFamily: FONT, lineHeight: 20, verticalAlign: 'bottom' } };

var graphics = [
  text(203, 797, '_2607_MTTNPT13_MTTNPT13.P3AA5     GPS P3 (x{s|black}) ,  GPSPPP (o{s|blue})  2797Ep', 30,
    { style: { align: 'left', lineHeight: 40, rich: subStyle } }),
  text(792, 913, 'Modified Julian Date', 30),
  text(792, 1470, 'Modified Julian Date', 30),
  text(70, 485, 'nanosecond', 30, { rotation: UP }),
  text(59, 1178, 'residuals (ns)', 30, { rotation: UP }),
  text(202, 1373, 'Max Smoothing Residual: _-0.360__3.998__2.042  Sigma= 0.603ns', 25, { style: { align: 'left' } }),
  text(214, 1533, '\u03c4 = 1047s', 16, { style: { align: 'left' } }),
  text(75, 1735, 'Modified Allan Deviation (10{p|-15})', 30, { rotation: UP, style: { lineHeight: 36, rich: supStyle } }),
  text(757, 1736, 'Time deviation (10{p|-10} s)', 30, { rotation: UP, style: { lineHeight: 36, rich: supStyle } }),
  text(440, 2029, 'Averaging time, log(\u03c4) (s)', 30),
  text(1123, 2029, 'Averaging time, log(\u03c4) (s)', 30)
];

var chart = echarts.init(document.getElementById('chart'));
chart.setOption({
  animation: false,
  backgroundColor: '#fff',
  textStyle: { fontFamily: FONT },
  grid: [
    { left: 162, top: 125, width: 1260, height: 720, outerBoundsMode: 'none' },
    { left: 162, top: 953, width: 1260, height: 450, outerBoundsMode: 'none' },
    { left: 169, top: 1510, width: 541, height: 451, outerBoundsMode: 'none' },
    { left: 854, top: 1510, width: 539, height: 451, outerBoundsMode: 'none' }
  ],
  xAxis: xAxes,
  yAxis: yAxes,
  series: series,
  graphic: graphics
});
</script>
</body>
</html>
